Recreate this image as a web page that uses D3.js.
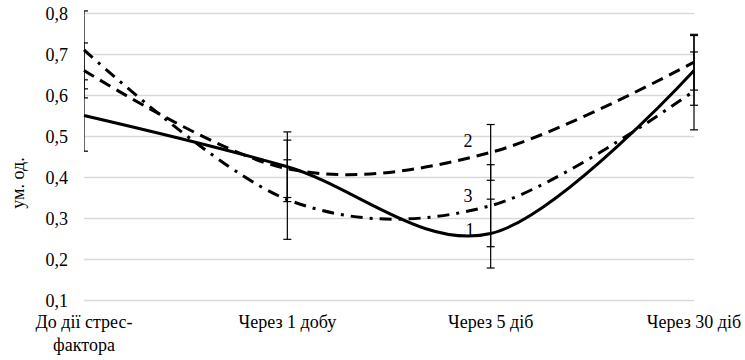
<!DOCTYPE html>
<html lang="uk">

<head>
    <meta charset="UTF-8">
    <title>ум. од.</title>
    <script src="https://cdn.jsdelivr.net/npm/d3@7"></script>
    <style>
        body {
            margin: 0;
            background: #fff;
        }
    </style>
</head>

<body>
    <script>
        const categories = ["До дії стрес-фактора", "Через 1 добу", "Через 5 діб", "Через 30 діб"];
        const series1 = [0.55, 0.425, 0.262, 0.66];
        const series2 = [0.66, 0.42, 0.46, 0.68];
        const series3 = [0.71, 0.345, 0.33, 0.61];
        const err1 = [0.087, 0.085, 0.084, 0.085];
        const err2 = [0.067, 0.07, 0.068, 0.068];
        const err3 = [0.095, 0.097, 0.1, 0.095];
        const yTicks = [0.1, 0.2, 0.3, 0.4, 0.5, 0.6, 0.7, 0.8];
        const seriesNames = ["1", "2", "3"];

        const width = 745;
        const height = 360;
        const marginLeft = 84;
        const marginRight = 51;
        const marginTop = 13;
        const marginBottom = 60;
        const serif = "Liberation Serif";

        const svg = d3.select("body")
            .append("svg")
            .attr("width", width)
            .attr("height", height)
            .style("font-family", serif)
            .style("font-size", "18px")

        const x = d3.scalePoint()
            .domain(categories)
            .range([marginLeft, width - marginRight]);

        const y = d3.scaleLinear()
            .domain([0.1, 0.8])
            .range([height - marginBottom, marginTop]);

        svg.append("clipPath")
            .attr("id", "plot")
            .append("rect")
            .attr("x", marginLeft)
            .attr("y", 0)
            .attr("width", width - marginLeft)
            .attr("height", height)

        // gridlines
        svg.append("g")
            .selectAll("line")
            .data(yTicks)
            .join("line")
            .attr("x1", marginLeft)
            .attr("x2", width - marginRight)
            .attr("y1", d => Math.round(y(d)) + 0.5)
            .attr("y2", d => Math.round(y(d)) + 0.5)
            .attr("stroke", "#d9d9d9")
            .attr("stroke-width", 1.3)

        // y axis labels, no line
        const yAxis = svg.append("g")
            .attr("transform", `translate(${marginLeft},0)`)
            .call(d3.axisLeft(y).tickValues(yTicks).tickSize(0).tickPadding(16)
                .tickFormat(d => d3.format(".1f")(d).replace(".", ",")));
        yAxis.select(".domain").remove();
        yAxis.attr("font-family", null).attr("font-size", null);
        yAxis.selectAll("text").attr("dy", "0.34em").style("font-family", serif).attr("fill", "#000");

        svg.append("text")
            .attr("transform", "translate(24,183) rotate(-90)")
            .attr("text-anchor", "middle")
            .style("font-family", serif)
            .text("ум. од.")

        // category labels, first one wraps
        const xLabels = svg.append("g")
            .selectAll("text")
            .data(categories)
            .join("text")
            .attr("x", d => x(d))
            .attr("y", 328)
            .attr("text-anchor", "middle")
            .style("font-family", serif)
        xLabels.each(function (d) {
            const t = d3.select(this);
            if (d.includes("стрес-")) {
                const parts = ["До дії стрес-", "фактора"];
                parts.forEach((p, i) => {
                    t.append("tspan").attr("x", x(d)).attr("dy", i === 0 ? 0 : 23).text(p);
                });
            } else {
                t.text(d);
            }
        });

        const allSeries = [
            { values: series1, errors: err1, dash: null },
            { values: series2, errors: err2, dash: "12,7" },
            { values: series3, errors: err3, dash: "12,7,3,7" },
        ];

        // error bars
        const eb = svg.append("g").attr("clip-path", "url(#plot)");
        allSeries.forEach(s => {
            const g = eb.append("g")
                .selectAll("g")
                .data(categories.map((c, i) => ({ c, v: s.values[i], e: s.errors[i] })))
                .join("g")
                .attr("stroke", "#000")
                .attr("stroke-width", 1.2);
            g.append("line")
                .attr("x1", d => x(d.c)).attr("x2", d => x(d.c))
                .attr("y1", d => y(d.v + d.e)).attr("y2", d => y(d.v - d.e));
            [1, -1].forEach(sign => {
                g.append("line")
                    .attr("x1", d => x(d.c) - 4).attr("x2", d => x(d.c) + 4)
                    .attr("y1", d => y(d.v + sign * d.e)).attr("y2", d => y(d.v + sign * d.e));
            });
        });

        const line = d3.line()
            .x((d, i) => x(categories[i]))
            .y(d => y(d))
            .curve(d3.curveCardinal.tension(0));

        svg.append("g")
            .selectAll("path")
            .data(allSeries)
            .join("path")
            .attr("d", d => line(d.values))
            .attr("fill", "none")
            .attr("stroke", "#000")
            .attr("stroke-width", 3)
            .attr("stroke-dasharray", d => d.dash)

        // series numbers near "Через 5 діб"
        const labelPos = [[470, 236], [468, 147], [468, 202]];
        svg.append("g")
            .selectAll("text")
            .data(seriesNames)
            .join("text")
            .attr("x", (d, i) => labelPos[i][0])
            .attr("y", (d, i) => labelPos[i][1])
            .attr("text-anchor", "middle")
            .style("font-family", serif)
            .text(d => d)
    </script>
</body>

</html>
